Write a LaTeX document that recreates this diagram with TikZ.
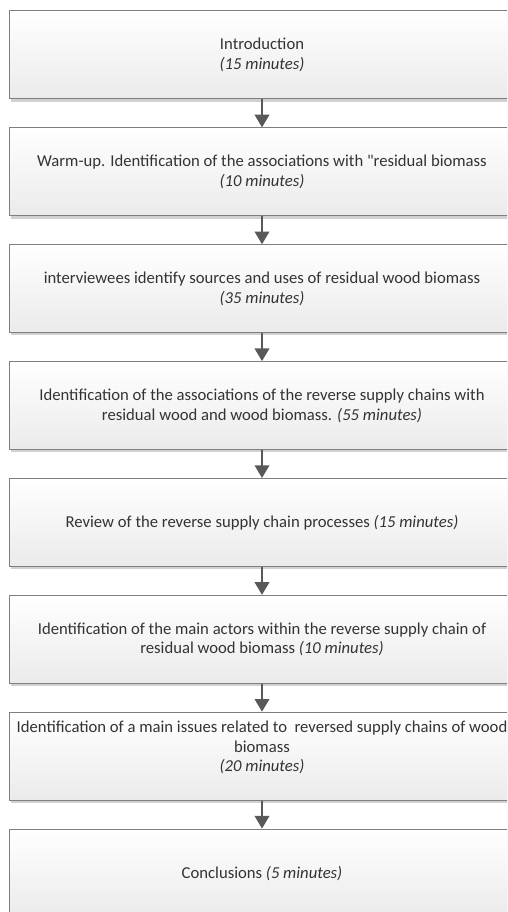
\documentclass[tikz,border=0pt]{standalone}
\usepackage{fontspec}
\setmainfont{Carlito}
\usepackage{xcolor}
\usetikzlibrary{arrows.meta,positioning,shadows}
\definecolor{edgegray}{HTML}{7F7F7F}
\definecolor{arrgray}{HTML}{595959}
\definecolor{txtgray}{HTML}{333333}
\tikzset{
  stage/.style={draw=edgegray, line width=0.75pt, align=center, minimum width=379.5pt, minimum height=66pt, inner sep=2pt,
    top color=white, bottom color=black!8, text=txtgray, font=\fontsize{12.5}{14.8}\selectfont,
    drop shadow={shadow xshift=1.5pt, shadow yshift=-2pt, fill=black!18, opacity=1}},
  arr/.style={-{Triangle[length=9.5pt, width=11pt]}, line width=1.1pt, draw=arrgray, fill=arrgray},
}

\begin{document}
\begin{tikzpicture}[x=0.75pt, y=-0.75pt, node distance=20.9pt]
\useasboundingbox (0,0) rectangle (507,912);
\clip (0,0) rectangle (507,912);
\node[stage] (intro) at (262,55) {Introduction\\\textit{(15 minutes)}};
\node[stage, below=of intro] (warm) {Warm-up. Identification of the associations with \textquotedbl residual biomass\\\textit{(10 minutes)}};
\node[stage, below=of warm] (src) {interviewees identify sources and uses of residual wood biomass\\\textit{(35 minutes)}};
\node[stage, below=of src] (assoc) {Identification of the associations of the reverse supply chains with\\residual wood and wood biomass. \textit{(55 minutes)}};
\node[stage, below=of assoc] (review) {Review of the reverse supply chain processes \textit{(15 minutes)}};
\node[stage, below=of review] (actors) {Identification of the main actors within the reverse supply chain of\\residual wood biomass \textit{(10 minutes)}};
\node[stage, below=of actors] (issues) {Identification of a main issues related to\ \ reversed supply chains of wood\\biomass\\\textit{(20 minutes)}\\~};
\node[stage, below=of issues] (concl) {Conclusions \textit{(5 minutes)}};
\draw[arr] (intro) -- (warm); \draw[arr] (warm) -- (src); \draw[arr] (src) -- (assoc);
\draw[arr] (assoc) -- (review); \draw[arr] (review) -- (actors);
\draw[arr] (actors) -- (issues); \draw[arr] (issues) -- (concl);
\end{tikzpicture}
\end{document}
